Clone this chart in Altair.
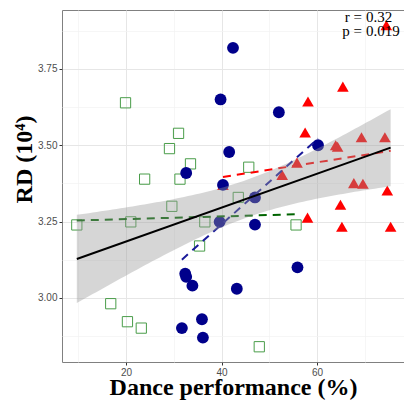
import altair as alt
import numpy as np
import pandas as pd

# ---- data ----
blue_x = [42.4, 39.8, 52.0, 60.2, 41.6, 32.6, 40.3, 47.0, 39.6, 47.0, 55.9, 32.4, 32.6, 33.9, 43.2, 35.9, 31.7, 36.1]
blue_y = [3.819, 3.650, 3.608, 3.500, 3.478, 3.409, 3.370, 3.329, 3.249, 3.240, 3.100, 3.079, 3.069, 3.040, 3.030, 2.930, 2.901, 2.870]
green_x = [19.9, 31.0, 29.1, 33.5, 45.7, 23.9, 31.3, 43.5, 29.6, 9.7, 21.0, 36.5, 55.6, 35.4, 16.8, 20.3, 23.2, 47.9]
green_y = [3.639, 3.539, 3.489, 3.439, 3.428, 3.389, 3.389, 3.329, 3.300, 3.239, 3.249, 3.249, 3.239, 3.170, 2.981, 2.922, 2.901, 2.840]
red_x = [74.5, 65.4, 58.1, 57.5, 69.3, 74.2, 63.9, 64.3, 55.8, 52.7, 67.7, 69.6, 74.7, 64.9, 58.0, 65.2, 75.4, 40.3]
red_y = [3.893, 3.692, 3.643, 3.542, 3.526, 3.526, 3.500, 3.495, 3.443, 3.403, 3.376, 3.374, 3.352, 3.305, 3.263, 3.233, 3.233, 3.370]

groups = ["green", "blue", "red"]
line_colors = ["#006400", "#1a1a9a", "#ff0000"]
x_grid = [10, 20, 30, 40, 50, 60, 70]
y_grid = [2.875, 3.0, 3.125, 3.25, 3.375, 3.5, 3.625, 3.75, 3.875]
ann_labels = ["r =", "p ="]
ann_values = ["0.32", "0.019"]
x_title = "Dance performance (%)"
y_title = "RD (10\u2074)"

blue = pd.DataFrame({"x": blue_x, "y": blue_y, "g": "blue"})
green = pd.DataFrame({"x": green_x, "y": green_y, "g": "green"})
red = pd.DataFrame({"x": red_x, "y": red_y, "g": "red"})
alld = pd.concat([green, blue, red], ignore_index=True)

# 95% confidence band of the overall linear fit
xa = alld["x"].to_numpy()
ya = alld["y"].to_numpy()
n = len(xa)
xbar = xa.mean()
sxx = ((xa - xbar) ** 2).sum()
b = ((xa - xbar) * (ya - ya.mean())).sum() / sxx
a = ya.mean() - b * xbar
s = np.sqrt(((ya - (a + b * xa)) ** 2).sum() / (n - 2))
xs = np.linspace(xa.min(), xa.max(), 80)
fit = a + b * xs
se = s * np.sqrt(1.0 / n + (xs - xbar) ** 2 / sxx)
tval = 2.0066
band = pd.DataFrame({"x": xs, "lo": fit - tval * se, "hi": fit + tval * se})

xscale = alt.Scale(domain=[6.6, 78.2], nice=False, zero=False)
yscale = alt.Scale(domain=[2.79, 3.943], nice=False, zero=False)

xmajor = "datum.value % 20 == 0"
ymajor = "abs(datum.value * 4 - round(datum.value * 4)) < 0.001"

xaxis = alt.Axis(
    values=x_grid, title=x_title,
    labelExpr=f"{xmajor} ? datum.label : ''",
    tickOpacity=alt.condition(xmajor, alt.value(1), alt.value(0)),
    gridColor=alt.condition(xmajor, alt.value("#e6e6e6"), alt.value("#f2f2f2")),
    gridWidth=alt.condition(xmajor, alt.value(1.0), alt.value(0.7)),
    labelOverlap=False, titleY=32.5, titleBaseline="alphabetic",
    titleFont="Liberation Serif", titleFontSize=24, titleFontWeight="bold", titleColor="black",
)
yaxis = alt.Axis(
    values=y_grid, title=y_title, format=".2f",
    labelExpr=f"{ymajor} ? datum.label : ''",
    tickOpacity=alt.condition(ymajor, alt.value(1), alt.value(0)),
    gridColor=alt.condition(ymajor, alt.value("#e6e6e6"), alt.value("#f2f2f2")),
    gridWidth=alt.condition(ymajor, alt.value(1.0), alt.value(0.7)),
    labelOverlap=False, titleX=-38, titleY=149, titleAngle=270,
    titleAlign="center", titleBaseline="middle",
    titleFont="Liberation Serif", titleFontSize=24, titleFontWeight="bold", titleColor="black",
)

X = alt.X("x:Q", scale=xscale, axis=xaxis)
Y = alt.Y("y:Q", scale=yscale, axis=yaxis)

tri = alt.Chart(red).mark_point(shape="triangle-up", filled=True, size=135,
                                color="#ff0000", opacity=1).encode(x=X, y=Y)
sq = alt.Chart(green).mark_point(shape="square", filled=False, size=105,
                                 color="#4a9d4a", strokeWidth=1, opacity=1).encode(
    x=alt.X("x:Q", scale=xscale), y=alt.Y("y:Q", scale=yscale))
circ = alt.Chart(blue).mark_circle(size=140, color="#00008b", opacity=1).encode(
    x=alt.X("x:Q", scale=xscale), y=alt.Y("y:Q", scale=yscale))

dashed = alt.Chart(alld).transform_regression(
    "x", "y", groupby=["g"], method="linear"
).mark_line(strokeDash=[8, 6], strokeWidth=2).encode(
    x=alt.X("x:Q", scale=xscale), y=alt.Y("y:Q", scale=yscale),
    color=alt.Color("g:N", scale=alt.Scale(domain=groups, range=line_colors), legend=None),
)

bandc = alt.Chart(band).mark_area(color="#999999", opacity=0.4).encode(
    x=alt.X("x:Q", scale=xscale), y=alt.Y("lo:Q", scale=yscale), y2="hi:Q")

overall = alt.Chart(alld).transform_regression("x", "y", method="linear").mark_line(
    color="black", strokeWidth=2).encode(
    x=alt.X("x:Q", scale=xscale), y=alt.Y("y:Q", scale=yscale))

ann_df = pd.DataFrame({"lab": ann_labels, "val": ann_values, "row": [0, 1]})
ann_y = alt.Y("row:Q", scale=alt.Scale(domain=[0, 1], range=[11.7, 25.7]), axis=None)
ann_lab = alt.Chart(ann_df).mark_text(align="right", baseline="alphabetic",
                                      font="Liberation Serif", fontSize=15, color="black").encode(
    text="lab:N", x=alt.value(300), y=ann_y)
ann_val = alt.Chart(ann_df).mark_text(align="left", baseline="alphabetic",
                                      font="Liberation Serif", fontSize=15, color="black").encode(
    text="val:N", x=alt.value(304), y=ann_y)

chart = alt.layer(tri, sq, circ, dashed, bandc, overall, ann_lab, ann_val).resolve_scale(
    y="independent"
).properties(
    width=342, height=352,
    background="white",
    autosize=alt.AutoSizeParams(type="none"),
    padding={"left": 62, "top": 10, "right": 0, "bottom": 43},
).configure_view(stroke="#808080", strokeWidth=1).configure_axis(
    domain=False, labelFont="Liberation Sans", labelFontSize=10, labelColor="#4d4d4d",
    tickColor="#333333", tickSize=3, labelPadding=2,
)

chart.save("out.html", embed_options={"renderer": "svg", "actions": False})
